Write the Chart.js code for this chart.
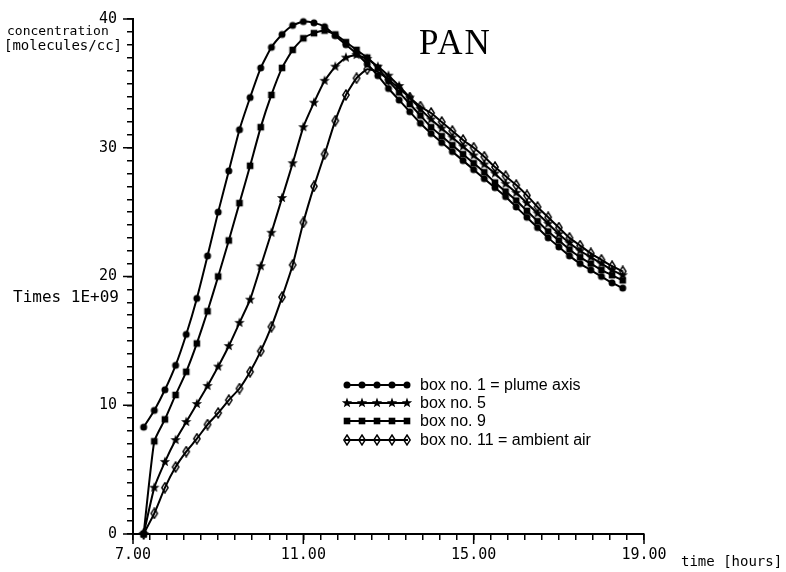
<!DOCTYPE html>
<html>
<head>
<meta charset="utf-8">
<script src="https://cdn.jsdelivr.net/npm/chart.js@4/dist/chart.umd.min.js"></script>
<style>
  html, body { margin: 0; padding: 0; background: #fff; }
  #wrap { width: 786px; height: 572px; }
</style>
</head>
<body>
<div id="wrap"><canvas id="chart" width="786" height="572"></canvas></div>
<script>
// time of day [hours], one sample every 15 minutes
const times = [7.25, 7.5, 7.75, 8, 8.25, 8.5, 8.75, 9, 9.25, 9.5, 9.75, 10,
  10.25, 10.5, 10.75, 11, 11.25, 11.5, 11.75, 12, 12.25, 12.5, 12.75, 13,
  13.25, 13.5, 13.75, 14, 14.25, 14.5, 14.75, 15, 15.25, 15.5, 15.75, 16,
  16.25, 16.5, 16.75, 17, 17.25, 17.5, 17.75, 18, 18.25, 18.5];

// PAN concentration, times 1E+09 molecules/cc
const box1 = [8.3, 9.6, 11.2, 13.1, 15.5, 18.3, 21.6, 25.0, 28.2, 31.4, 33.9, 36.2,
  37.8, 38.8, 39.5, 39.8, 39.7, 39.4, 38.7, 38.0, 37.3, 36.5, 35.6, 34.6,
  33.7, 32.8, 31.9, 31.1, 30.4, 29.7, 29.0, 28.3, 27.6, 26.9, 26.2, 25.4,
  24.6, 23.8, 23.0, 22.3, 21.6, 21.0, 20.5, 20.0, 19.5, 19.1];
const box5 = [0, 3.6, 5.6, 7.3, 8.7, 10.1, 11.5, 13.0, 14.6, 16.4, 18.2, 20.8,
  23.4, 26.1, 28.8, 31.6, 33.5, 35.2, 36.3, 37.0, 37.2, 36.9, 36.3, 35.6,
  34.8, 33.9, 33.0, 32.2, 31.5, 30.8, 30.1, 29.4, 28.7, 28.0, 27.2, 26.5,
  25.7, 24.9, 24.1, 23.3, 22.6, 22.0, 21.5, 21.0, 20.5, 20.1];
const box9 = [0, 7.2, 8.9, 10.8, 12.6, 14.8, 17.3, 20.0, 22.8, 25.7, 28.6, 31.6,
  34.1, 36.2, 37.6, 38.5, 38.9, 39.1, 38.8, 38.2, 37.6, 37.0, 36.2, 35.2,
  34.3, 33.4, 32.5, 31.6, 30.9, 30.2, 29.5, 28.8, 28.1, 27.3, 26.6, 25.9,
  25.1, 24.3, 23.5, 22.8, 22.1, 21.5, 21.0, 20.5, 20.1, 19.7];
const box11 = [0, 1.6, 3.6, 5.2, 6.4, 7.4, 8.5, 9.4, 10.4, 11.3, 12.6, 14.2,
  16.1, 18.4, 20.9, 24.2, 27.0, 29.5, 32.1, 34.1, 35.4, 36.1, 35.9, 35.3,
  34.6, 33.9, 33.2, 32.7, 32.0, 31.3, 30.6, 30.0, 29.3, 28.5, 27.8, 27.1,
  26.3, 25.4, 24.6, 23.8, 23.0, 22.4, 21.8, 21.3, 20.8, 20.4];

const seriesNames = ['box no. 1 = plume axis', 'box no. 5', 'box no. 9', 'box no. 11 = ambient air'];
const xMajor = [7, 11, 15, 19];
const yMajor = [0, 10, 20, 30, 40];

const MONO = '"DejaVu Sans Mono", monospace';

// little marker images for the plotter symbols
function marker(kind) {
  const c = document.createElement('canvas');
  c.width = 12; c.height = 12;
  const g = c.getContext('2d');
  g.translate(6, 6);
  g.fillStyle = '#000';
  g.strokeStyle = '#000';
  g.lineWidth = 1.4;
  if (kind === 'dot') {
    g.beginPath(); g.arc(0, 0, 3.5, 0, Math.PI * 2); g.fill();
  } else if (kind === 'square') {
    g.fillRect(-3.3, -3.3, 6.6, 6.6);
  } else if (kind === 'star') {
    g.beginPath();
    for (let i = 0; i < 10; i++) {
      const r = i % 2 ? 2.3 : 5.4;
      const a = -Math.PI / 2 + i * Math.PI / 5;
      g.lineTo(r * Math.cos(a), r * Math.sin(a));
    }
    g.closePath(); g.fill();
  } else {
    g.beginPath();
    g.moveTo(0, -5); g.lineTo(3.2, 0); g.lineTo(0, 5); g.lineTo(-3.2, 0);
    g.closePath(); g.stroke();
  }
  return c;
}

const markers = [marker('dot'), marker('star'), marker('square'), marker('diamond')];
const seriesValues = [box1, box5, box9, box11];

const datasets = seriesValues.map((vals, i) => ({
  label: seriesNames[i],
  data: times.map((t, k) => ({ x: t, y: vals[k] })),
  borderColor: '#000',
  borderWidth: 2,
  pointStyle: markers[i],
  pointRadius: 4,
  tension: 0.15,
  clip: false
}));

const decor = {
  id: 'decor',
  afterDraw(chart) {
    const ctx = chart.ctx;
    const xs = chart.scales.x, ys = chart.scales.y;
    const area = chart.chartArea;
    ctx.save();
    ctx.strokeStyle = '#000';
    ctx.lineWidth = 1.5;
    // longer major ticks
    ctx.beginPath();
    yMajor.forEach(v => {
      const py = ys.getPixelForValue(v);
      ctx.moveTo(area.left - 10, py); ctx.lineTo(area.left, py);
    });
    xMajor.forEach(v => {
      const px = xs.getPixelForValue(v);
      ctx.moveTo(px, area.bottom); ctx.lineTo(px, area.bottom + 10);
    });
    ctx.stroke();

    ctx.fillStyle = '#000';
    ctx.textBaseline = 'alphabetic';
    ctx.textAlign = 'left';
    ctx.font = '13px ' + MONO;
    ctx.fillText('concentration', 7, 35);
    ctx.font = '14px ' + MONO;
    ctx.fillText('[molecules/cc]', 4, 50);
    ctx.font = '16px ' + MONO;
    ctx.textAlign = 'right';
    ctx.fillText('Times 1E+09', 119, 302);
    ctx.textAlign = 'left';
    ctx.font = '14px ' + MONO;
    ctx.fillText('time [hours]', 681, 566);

    ctx.font = '35px "Liberation Serif", serif';
    ctx.letterSpacing = '2px';
    ctx.fillText('PAN', 419, 54);
    ctx.letterSpacing = '0px';

    // legend inside the plot
    const rows = [385, 403, 421, 440];
    ctx.font = '16px "Liberation Sans", Arial, sans-serif';
    ctx.textBaseline = 'middle';
    rows.forEach((ry, i) => {
      ctx.lineWidth = 2;
      ctx.beginPath(); ctx.moveTo(345, ry); ctx.lineTo(408, ry); ctx.stroke();
      for (let k = 0; k < 5; k++) {
        const m = markers[i];
        ctx.drawImage(m, 347 + k * 15 - m.width / 2, ry - m.height / 2);
      }
      ctx.fillText(seriesNames[i], 420, ry + 1);
    });
    ctx.restore();
  }
};

new Chart(document.getElementById('chart').getContext('2d'), {
  type: 'line',
  data: { datasets },
  options: {
    responsive: false,
    animation: false,
    layout: { padding: { top: 14, right: 142, left: 0, bottom: 0 } },
    plugins: { legend: { display: false }, tooltip: { enabled: false } },
    scales: {
      x: {
        type: 'linear',
        min: 7,
        max: 19,
        afterFit: s => { s.height = 38; },
        afterBuildTicks: s => {
          const t = [];
          for (let i = 0; i <= 30; i++) t.push({ value: 7 + i * 0.4 });
          s.ticks = t;
        },
        ticks: {
          autoSkip: false,
          maxRotation: 0,
          padding: 6,
          color: '#000',
          font: { family: MONO, size: 15 },
          callback: v => {
            const r = Math.round(v);
            return (Math.abs(v - r) < 1e-6 && xMajor.includes(r)) ? r.toFixed(2) : '';
          }
        },
        grid: { drawOnChartArea: false, tickLength: 6, color: '#000', lineWidth: 1.5 },
        border: { color: '#000', width: 2 }
      },
      y: {
        min: 0,
        max: 40,
        afterFit: s => { s.width = 133; },
        ticks: {
          stepSize: 1,
          autoSkip: false,
          padding: 10,
          color: '#000',
          font: { family: MONO, size: 15 },
          callback: v => (v % 10 === 0 ? String(v) : '')
        },
        grid: { drawOnChartArea: false, tickLength: 6, color: '#000', lineWidth: 1.5 },
        border: { color: '#000', width: 2 }
      }
    }
  },
  plugins: [decor]
});
</script>
</body>
</html>
